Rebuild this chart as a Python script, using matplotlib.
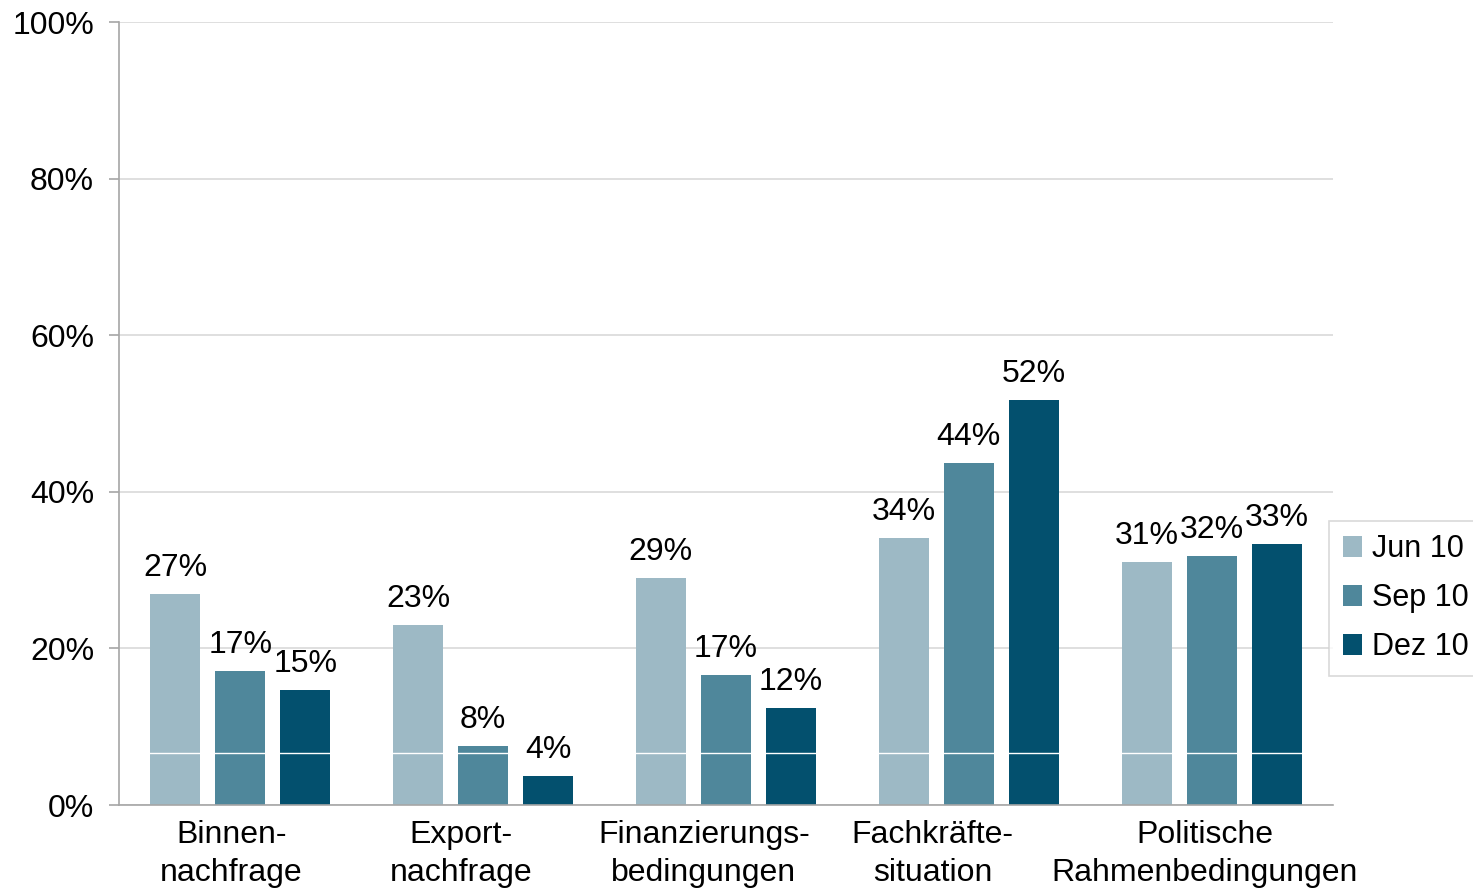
import numpy as np
import matplotlib.pyplot as plt
import matplotlib.transforms as mtransforms

plt.rcParams['font.family'] = ['Liberation Sans', 'DejaVu Sans']

categories = ['Binnen-\nnachfrage', 'Export-\nnachfrage', 'Finanzierungs-\nbedingungen',
              'Fachkräfte-\nsituation', 'Politische\nRahmenbedingungen']
series = ['Jun 10', 'Sep 10', 'Dez 10']
jun = [26.9, 23.0, 29.0, 34.1, 31.0]
sep = [17.1, 7.5, 16.6, 43.7, 31.8]
dez = [14.7, 3.7, 12.4, 51.7, 33.3]
colors = ['#9DB9C5', '#4F879B', '#03506E']

fig = plt.figure(figsize=(14.73, 8.88), dpi=100)
ax = fig.add_axes([119/1473, 1-805/888, (1333-119)/1473, (805-22)/888])

x = np.arange(len(categories))
width, off = 0.206, 0.268
fs = 23
for k, (vals, lab) in enumerate(zip([jun, sep, dez], series)):
    pos = x + (k-1)*off
    ax.bar(pos, vals, width, color=colors[k], label=lab, zorder=2)
    for p, v in zip(pos, vals):
        ax.annotate('{0}%'.format(int(round(v))), (p, v), xytext=(0, 8), textcoords='offset points',
                    ha='center', va='bottom', fontsize=fs, zorder=5)

# faint white stripe through the bars
ax.axhline(6.6, xmin=0.01, xmax=0.99, color='white', lw=1, zorder=3)

ax.set_xlim(-0.5, 4.5)
ax.set_ylim(0, 100)
ax.set_yticks(range(0, 101, 20))
ax.set_yticklabels(['{0}%'.format(t) for t in range(0, 101, 20)], fontsize=fs)
ax.set_xticks(x)
ax.set_xticklabels(categories, fontsize=fs, linespacing=1.36)
ax.tick_params(axis='x', length=0, pad=10.5)
ax.tick_params(axis='y', length=7, width=1.2, color='#A6A6A6', pad=11)
# excel-like label placement, slightly left of the group centres
shifts = [-9, -22, -22, -36, -7]
for lbl, dx in zip(ax.get_xticklabels(), shifts):
    lbl.set_transform(lbl.get_transform() + mtransforms.ScaledTranslation(dx/100, 0, fig.dpi_scale_trans))
ax.grid(axis='y', color='#D9D9D9', lw=1.2, zorder=0)
ax.set_axisbelow(True)
for s in ['top', 'right']:
    ax.spines[s].set_visible(False)
for s in ['left', 'bottom']:
    ax.spines[s].set_color('#A6A6A6')
    ax.spines[s].set_linewidth(1.2)

leg = ax.legend(loc='center left', bbox_to_anchor=(0.9965, 0.264), fontsize=22, frameon=True,
                fancybox=False, edgecolor='#D0D0D0', handlelength=0.65, handleheight=0.65,
                handletextpad=0.3, labelspacing=0.62, borderpad=0.45, borderaxespad=0)
leg.get_frame().set_linewidth(1.2)

plt.savefig('out.png', dpi=100)
plt.close()
